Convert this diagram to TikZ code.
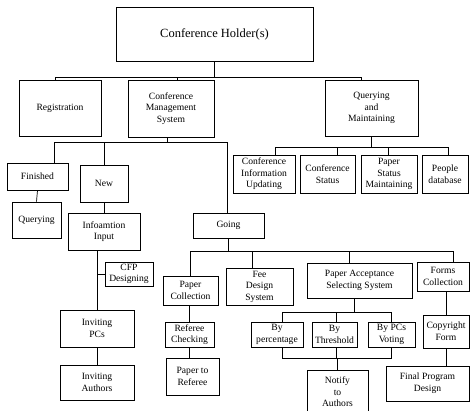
\documentclass[tikz,border=0pt]{standalone}
\usepackage{fontspec}
\setmainfont{Liberation Serif}
\usetikzlibrary{calc}

\tikzset{
  blk/.style 2 args={draw, line width=0.7pt, align=center, inner sep=0pt,
    minimum width=#1pt, minimum height=#2pt,
    font=\fontsize{9.6}{11.6}\selectfont},
  wire/.style={line width=0.7pt},
}

\begin{document}
\begin{tikzpicture}[x=1pt,y=-1pt]
  \useasboundingbox (0,0) rectangle (470,411);
  \clip (0,0) rectangle (470,411);

  % top level
  \node[blk={197}{54}, font=\fontsize{12.5}{14}\selectfont] (hold) at (214.5,34) {Conference Holder(s)};
  \node[blk={82}{56}] (reg) at (60,108) {Registration};
  \node[blk={86}{57}] (cms) at (171,108.5) {Conference\\Management\\System};
  \node[blk={93}{56}] (qm) at (371.5,108) {Querying\\and\\Maintaining};

  % management branch
  \node[blk={61}{27}] (fin) at (37.5,176.5) {Finished};
  \node[blk={49}{36}] (qry) at (36.5,220) {Querying};
  \node[blk={48}{37}] (new) at (104,183.5) {New};
  \node[blk={72}{37}] (info) at (104,231.5) {Infoamtion\\Input};
  \node[blk={48}{24}] (cfp) at (129,274) {CFP\\Designing};
  \node[blk={74}{37}] (ipc) at (97,328.5) {Inviting\\PCs};
  \node[blk={74}{35}] (iau) at (97,382.5) {Inviting\\Authors};
  \node[blk={71}{25}] (going) at (228.5,225.5) {Going};

  % querying branch
  \node[blk={62}{38}] (ciu) at (264,174) {Conference\\Information\\Updating};
  \node[blk={55}{38}] (cst) at (327.5,174) {Conference\\Status};
  \node[blk={56}{38}] (psm) at (389,174) {Paper\\Status\\Maintaining};
  \node[blk={46}{38}] (pdb) at (445,174) {People\\database};

  % going branch
  \node[blk={55}{29}] (pcol) at (190.5,290.5) {Paper\\Collection};
  \node[blk={49}{25}] (rchk) at (189.5,334.5) {Referee\\Checking};
  \node[blk={53}{37}] (pref) at (192.5,376.5) {Paper to\\Referee};
  \node[blk={67}{37}] (fee) at (259.5,286.5) {Fee\\Design\\System};
  \node[blk={105}{35}] (pass) at (359.5,280.5) {Paper Acceptance\\Selecting System};
  \node[blk={52}{29}] (forms) at (443,276.5) {Forms\\Collection};
  \node[blk={52}{25}] (bper) at (277,334.5) {By\\percentage};
  \node[blk={45}{25}] (bthr) at (334.5,334.5) {By\\Threshold};
  \node[blk={47}{25}] (bpcv) at (391.5,334.5) {By PCs\\Voting};
  \node[blk={61}{44}] (notify) at (337.5,392) {Notify\\to\\Authors};
  \node[blk={46}{33}] (copy) at (446,331.5) {Copyright\\Form};
  \node[blk={83}{35}] (fpd) at (427.5,383.5) {Final Program\\Design};

  % tree connectors
  \foreach \kid/\dx in {reg/-5,cms/6,qm/-10}
    \draw[wire] (hold.south) -- (hold.south |- 0,77) -| ([xshift=\dx pt]\kid.north);
  \foreach \kid/\dx in {fin/17,new/0,going/-1.5}
    \draw[wire] ([xshift=-4pt]cms.south) -- ([xshift=-4pt]cms.south |- 0,142) -| ([xshift=\dx pt]\kid.north);
  \foreach \kid/\dx in {ciu/11,cst/9.5,psm/-1,pdb/3}
    \draw[wire] (qm.south) -- (qm.south |- 0,147) -| ([xshift=\dx pt]\kid.north);
  \foreach \kid/\dx in {pcol/0,fee/-7.5,pass/-10,forms/10}
    \draw[wire] (going.south) -- (going.south |- 0,251) -| ([xshift=\dx pt]\kid.north);
  \foreach \kid/\dx in {bper/5,bthr/2,bpcv/0}
    \draw[wire] ([xshift=-5pt]pass.south) -- ([xshift=-5pt]pass.south |- 0,312) -| ([xshift=\dx pt]\kid.north);
  \foreach \kid/\dx in {bper/5,bthr/2,bpcv/0}
    \draw[wire] ([xshift=\dx pt]\kid.south) |- (notify.north |- 0,358);
  \draw[wire] (notify.north) -- (notify.north |- 0,358);

  % straight links
  \draw[wire] (fin.south) -- (qry.north);
  \draw[wire] (new.south) -- (info.north);
  \draw[wire] (ipc.north) -- (ipc.north |- info.south);
  \draw[wire] (cfp.west) -- (cfp.west -| ipc.north);
  \draw[wire] (ipc.south) -- (iau.north);
  \draw[wire] (rchk.north) -- (rchk.north |- pcol.south);
  \draw[wire] (rchk.south) -- (rchk.south |- pref.north);
  \draw[wire] (copy.north) -- (copy.north |- forms.south);
  \draw[wire] (copy.south) -- (copy.south |- fpd.north);
\end{tikzpicture}
\end{document}
